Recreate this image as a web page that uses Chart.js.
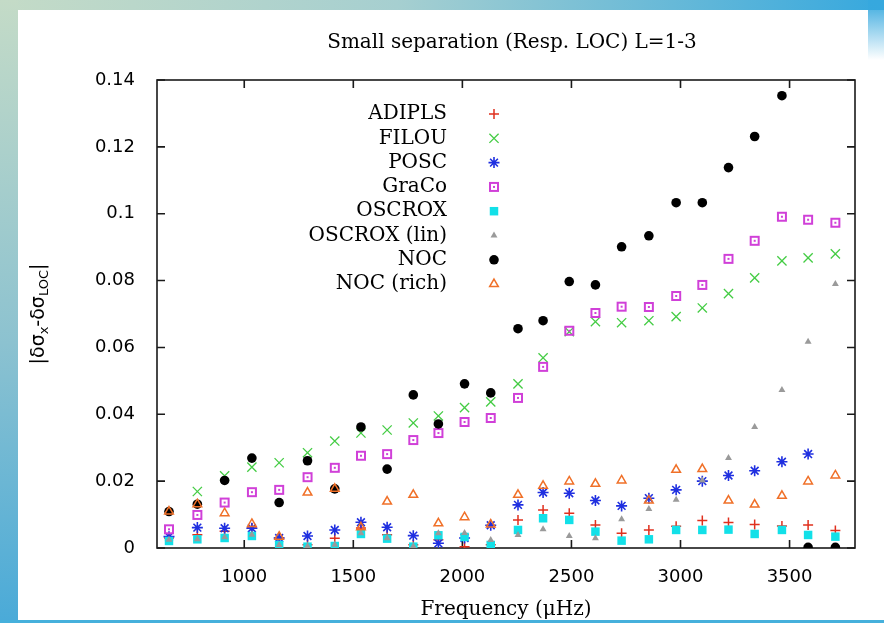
<!DOCTYPE html>
<html>
<head>
<meta charset="UTF-8">
<meta name="viewport" content="width=device-width, initial-scale=1.0">
<script src="https://cdn.jsdelivr.net/npm/chart.js"></script>
<title>Small separation (Resp. LOC) L=1-3</title>
<style>
  body { margin: 0; background: #fff; }
  #wrap { position: relative; width: 884px; height: 623px; overflow: hidden; background: #fff; }
  .band { position: absolute; }
  #bandTop { left: 0; top: 0; width: 884px; height: 10px;
    background: linear-gradient(to right, #c4dbc7, #a6cfd0 45%, #36a8de); }
  #bandLeft { left: 0; top: 0; width: 18px; height: 623px;
    background: linear-gradient(to bottom, #c4dbc7, #8cc2d0 55%, #4aaad8); }
  #bandRight { left: 868px; top: 0; width: 16px; height: 60px;
    background: linear-gradient(to bottom, #36a8de, rgba(54,168,222,0)); }
  #bandBottom { left: 0; top: 620px; width: 884px; height: 3px; background: #46b0dc; }
  canvas { position: absolute; left: 0; top: 0; }
</style>
</head>
<body>
<div id="wrap">
  <div class="band" id="bandTop"></div>
  <div class="band" id="bandLeft"></div>
  <div class="band" id="bandRight"></div>
  <div class="band" id="bandBottom"></div>
  <canvas id="sep" width="884" height="623"></canvas>
</div>

<script>
// frequencies (muHz) shared by all codes
const freq = [655, 785, 910, 1035, 1160, 1290, 1415, 1535, 1655, 1775, 1890, 2010, 2130,
              2255, 2370, 2490, 2610, 2730, 2855, 2980, 3100, 3220, 3340, 3465, 3585, 3710];
const xTicks = [1000, 1500, 2000, 2500, 3000, 3500];

// |d sigma_x - d sigma_LOC| for each code
const adipls = [0.0030, 0.0040, 0.0050, 0.0060, 0.0030, 0.0010, 0.0029, 0.0060, 0.0040, 0.0010, 0.0025, 0.0004, 0.0010,
                0.0084, 0.0114, 0.0104, 0.0069, 0.0044, 0.0054, 0.0065, 0.0082, 0.0076, 0.0070, 0.0066, 0.0069, 0.0052];
const filou  = [null,   0.0169, 0.0216, 0.0242, 0.0255, 0.0285, 0.0320, 0.0344, 0.0353, 0.0374, 0.0395, 0.0420, 0.0437,
                0.0491, 0.0569, 0.0647, 0.0677, 0.0674, 0.0680, 0.0692, 0.0718, 0.0761, 0.0808, 0.0859, 0.0868, 0.0880];
const posc   = [0.0034, 0.0061, 0.0059, 0.0059, 0.0030, 0.0036, 0.0054, 0.0077, 0.0062, 0.0037, 0.0014, 0.0030, 0.0068,
                0.0129, 0.0166, 0.0164, 0.0142, 0.0126, 0.0149, 0.0174, 0.0200, 0.0217, 0.0231, 0.0258, 0.0281, null];
const graco  = [0.0056, 0.0099, 0.0136, 0.0167, 0.0174, 0.0212, 0.0240, 0.0276, 0.0281, 0.0323, 0.0344, 0.0377, 0.0389,
                0.0449, 0.0542, 0.0650, 0.0703, 0.0722, 0.0721, 0.0754, 0.0787, 0.0865, 0.0919, 0.0991, 0.0982, 0.0973];
const oscrox = [0.0021, 0.0026, 0.0030, 0.0036, 0.0009, 0.0004, 0.0006, 0.0042, 0.0028, 0.0004, 0.0038, 0.0033, 0.0009,
                0.0054, 0.0089, 0.0084, 0.0049, 0.0022, 0.0026, 0.0054, 0.0054, 0.0055, 0.0042, 0.0054, 0.0039, 0.0034];
const oscroxLin = [0.0025, 0.0026, 0.0032, 0.0040, 0.0009, 0.0005, 0.0010, 0.0044, 0.0029, 0.0005, 0.0044, 0.0045, 0.0024,
                0.0039, 0.0056, 0.0036, 0.0029, 0.0086, 0.0117, 0.0144, 0.0202, 0.0269, 0.0362, 0.0473, 0.0617, 0.0790];
const noc    = [0.0109, 0.0131, 0.0202, 0.0269, 0.0136, 0.0261, 0.0177, 0.0362, 0.0236, 0.0458, 0.0371, 0.0491, 0.0464,
                0.0656, 0.0680, 0.0797, 0.0787, 0.0901, 0.0934, 0.1033, 0.1033, 0.1138, 0.1231, 0.1353, 0.0002, 0.0002];
const nocRich = [0.0109, 0.0131, 0.0104, 0.0072, 0.0034, 0.0166, 0.0177, 0.0062, 0.0139, 0.0159, 0.0074, 0.0092, 0.0070,
                0.0159, 0.0186, 0.0199, 0.0192, 0.0202, 0.0142, 0.0234, 0.0236, 0.0142, 0.0130, 0.0156, 0.0199, 0.0217];

const labels = ['ADIPLS', 'FILOU', 'POSC', 'GraCo', 'OSCROX', 'OSCROX (lin)', 'NOC', 'NOC (rich)'];
const series = [adipls, filou, posc, graco, oscrox, oscroxLin, noc, nocRich];

function pts(vals) {
    const out = [];
    vals.forEach((v, i) => { if (v !== null) out.push({ x: freq[i], y: v }); });
    return out;
}

// gnuplot style open box with a dot in the middle
function boxDot(color) {
    const c = document.createElement('canvas');
    c.width = 12; c.height = 12;
    const g = c.getContext('2d');
    g.strokeStyle = color;
    g.lineWidth = 2;
    g.strokeRect(2, 2, 8, 8);
    g.fillStyle = color;
    g.fillRect(5, 5, 2, 2);
    return c;
}

const styles = [
    { pointStyle: 'cross',    pointRadius: 5,   borderColor: '#e0301e', backgroundColor: '#e0301e', borderWidth: 1.5 },
    { pointStyle: 'crossRot', pointRadius: 6.5, borderColor: '#44cc44', backgroundColor: '#44cc44', borderWidth: 1.3 },
    { pointStyle: 'star',     pointRadius: 5.5, borderColor: '#1f2fe0', backgroundColor: '#1f2fe0', borderWidth: 1.6 },
    { pointStyle: boxDot('#d040d8'), pointRadius: 6, borderColor: '#d040d8', backgroundColor: '#d040d8', borderWidth: 0 },
    { pointStyle: 'rect',     pointRadius: 6,   borderColor: '#12e0e8', backgroundColor: '#12e0e8', borderWidth: 0 },
    { pointStyle: 'triangle', pointRadius: 4,   borderColor: '#9a9a9a', backgroundColor: '#9a9a9a', borderWidth: 0 },
    { pointStyle: 'circle',   pointRadius: 4.8, borderColor: '#000000', backgroundColor: '#000000', borderWidth: 0 },
    { pointStyle: 'triangle', pointRadius: 5,   borderColor: '#f07028', backgroundColor: 'rgba(0,0,0,0)', borderWidth: 1.5 }
];

const datasets = series.map((vals, i) => Object.assign({
    label: labels[i],
    data: pts(vals),
    showLine: false,
    order: series.length - 1 - i
}, styles[i]));

// frame, inward ticks, titles and the key
const decor = {
    id: 'decor',
    beforeDatasetsDraw(chart) {
        const ctx = chart.ctx;
        const a = chart.chartArea;
        const xs = chart.scales.x, ys = chart.scales.y;
        ctx.save();
        ctx.strokeStyle = '#1a1a1a';
        ctx.lineWidth = 1.6;
        ctx.strokeRect(a.left, a.top, a.right - a.left, a.bottom - a.top);
        ctx.beginPath();
        ys.ticks.forEach(t => {
            const y = ys.getPixelForValue(t.value);
            ctx.moveTo(a.left, y); ctx.lineTo(a.left + 8, y);
            ctx.moveTo(a.right, y); ctx.lineTo(a.right - 8, y);
        });
        xs.ticks.forEach(t => {
            const x = xs.getPixelForValue(t.value);
            ctx.moveTo(x, a.bottom); ctx.lineTo(x, a.bottom - 8);
            ctx.moveTo(x, a.top); ctx.lineTo(x, a.top + 8);
        });
        ctx.stroke();
        ctx.restore();
    },
    afterDraw(chart) {
        const ctx = chart.ctx;
        const a = chart.chartArea;
        const cx = (a.left + a.right) / 2;
        ctx.save();
        ctx.fillStyle = '#000';
        ctx.textBaseline = 'middle';
        ctx.textAlign = 'center';
        ctx.font = '20px "DejaVu Serif"';
        ctx.fillText('Small separation (Resp. LOC) L=1-3', cx + 6, 43);
        ctx.fillText('Frequency (\u03bcHz)', cx, 610);

        // y axis title with subscripts, rotated
        const parts = [['|\u03b4\u03c3', 0], ['x', 1], ['-\u03b4\u03c3', 0], ['LOC', 1], ['|', 0]];
        const big = '19px "DejaVu Sans"', small = '13px "DejaVu Sans"';
        let w = 0;
        parts.forEach(p => { ctx.font = p[1] ? small : big; w += ctx.measureText(p[0]).width; });
        ctx.translate(38, (a.top + a.bottom) / 2);
        ctx.rotate(-Math.PI / 2);
        ctx.textAlign = 'left';
        ctx.textBaseline = 'alphabetic';
        let x = -w / 2;
        parts.forEach(p => {
            ctx.font = p[1] ? small : big;
            ctx.fillText(p[0], x, p[1] ? 10 : 6);
            x += ctx.measureText(p[0]).width;
        });
        ctx.restore();

        // key: label right aligned, symbol to its right
        ctx.save();
        ctx.font = '20px "DejaVu Serif"';
        ctx.textAlign = 'right';
        ctx.textBaseline = 'middle';
        chart.data.datasets.forEach((ds, i) => {
            const y = 114 + i * 24.3;
            ctx.fillStyle = '#000';
            ctx.fillText(ds.label, 447, y);
            if (Chart.helpers && Chart.helpers.drawPoint) {
                ctx.fillStyle = ds.backgroundColor;
                ctx.strokeStyle = ds.borderColor;
                ctx.lineWidth = ds.borderWidth;
                Chart.helpers.drawPoint(ctx, {
                    pointStyle: ds.pointStyle, radius: ds.pointRadius,
                    borderWidth: ds.borderWidth, rotation: 0
                }, 494, y);
            }
        });
        ctx.restore();
    }
};

Chart.defaults.font.family = '"DejaVu Sans"';
Chart.defaults.color = '#000';

var chart = new Chart(document.getElementById('sep'), {
    type: 'scatter',
    data: { datasets: datasets },
    plugins: [decor],
    options: {
        responsive: false,
        animation: false,
        events: [],
        layout: { padding: { left: 0, right: 29, top: 80, bottom: 0 } },
        plugins: { legend: { display: false }, tooltip: { enabled: false } },
        scales: {
            x: {
                type: 'linear', min: 600, max: 3800,
                grid: { display: false }, border: { display: false },
                ticks: { padding: 11, font: { size: 18 }, maxRotation: 0,
                         callback: v => String(v) },
                afterBuildTicks: s => { s.ticks = xTicks.map(v => ({ value: v })); },
                afterFit: s => { s.height = 75; }
            },
            y: {
                min: 0, max: 0.14,
                grid: { display: false }, border: { display: false },
                ticks: { stepSize: 0.02, padding: 14, font: { size: 18 },
                         callback: v => String(+v.toFixed(2)) },
                afterFit: s => { s.width = 157; }
            }
        }
    }
});
</script>
</body>
</html>
